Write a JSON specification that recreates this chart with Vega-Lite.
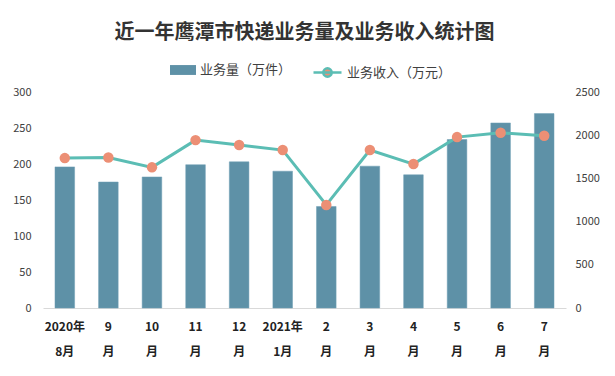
{
  "$schema": "https://vega.github.io/schema/vega-lite/v6.json",
  "autosize": {"type": "none"},
  "width": 523,
  "height": 216,
  "padding": {"left": 43, "top": 92, "right": 49, "bottom": 68},
  "background": "white",
  "config": {
    "view": {"stroke": null},
    "font": "Noto Sans CJK SC"
  },
  "title": {
    "text": "近一年鹰潭市快递业务量及业务收入统计图",
    "fontSize": 20,
    "fontWeight": "bold",
    "color": "#333333",
    "font": "Noto Sans CJK SC",
    "anchor": "middle",
    "offset": 14
  },
  "data": {
    "values": [
      {"month": "2020年\n8月", "volume": 196, "revenue": 1735},
      {"month": "9\n月", "volume": 175, "revenue": 1742},
      {"month": "10\n月", "volume": 182, "revenue": 1628},
      {"month": "11\n月", "volume": 199, "revenue": 1943},
      {"month": "12\n月", "volume": 203, "revenue": 1886},
      {"month": "2021年\n1月", "volume": 190, "revenue": 1828},
      {"month": "2\n月", "volume": 141, "revenue": 1193},
      {"month": "3\n月", "volume": 197, "revenue": 1828},
      {"month": "4\n月", "volume": 185, "revenue": 1666},
      {"month": "5\n月", "volume": 234, "revenue": 1978},
      {"month": "6\n月", "volume": 257, "revenue": 2028},
      {"month": "7\n月", "volume": 270, "revenue": 1993}
    ]
  },
  "encoding": {
    "x": {
      "field": "month",
      "type": "nominal",
      "sort": null,
      "scale": {"paddingInner": 0.55, "paddingOuter": 0.275},
      "axis": {
        "title": null,
        "labelAngle": 0,
        "labelExpr": "split(datum.value, '\\n')",
        "labelFontSize": 12,
        "labelFontWeight": "bold",
        "labelColor": "#222222",
        "labelLineHeight": 25,
        "labelPadding": 13,
        "ticks": false,
        "domainColor": "#d9d9d9",
        "domainWidth": 1
      }
    }
  },
  "layer": [
    {
      "mark": {"type": "bar", "stroke": "#6f9fb4", "strokeWidth": 0.5},
      "encoding": {
        "y": {
          "field": "volume",
          "type": "quantitative",
          "scale": {"domain": [0, 300]},
          "axis": {
            "title": null,
            "values": [0, 50, 100, 150, 200, 250, 300],
            "grid": false,
            "domain": false,
            "ticks": false,
            "labelFontSize": 11,
            "labelColor": "#404040",
            "labelPadding": 12
          }
        },
        "fill": {
          "datum": "业务量（万件）",
          "scale": {"range": ["#5e91a7"]},
          "legend": {
            "title": null,
            "orient": "none",
            "legendX": 127,
            "legendY": -35,
            "symbolType": "M-1,-0.38H1V0.38H-1Z",
            "symbolSize": 676,
            "symbolStrokeWidth": 0,
            "labelFontSize": 13,
            "labelColor": "#404040",
            "labelOffset": 4
          }
        }
      }
    },
    {
      "mark": {"type": "line", "strokeWidth": 3},
      "encoding": {
        "y": {
          "field": "revenue",
          "type": "quantitative",
          "scale": {"domain": [0, 2500]},
          "axis": null
        },
        "stroke": {
          "datum": "业务收入（万元）",
          "scale": {"range": ["#5bbdb4"]},
          "legend": {
            "title": null,
            "orient": "none",
            "legendX": 269,
            "legendY": -35,
            "symbolType": "M-1,0H1M-0.3,0A0.3,0.3 0 1 1 0.3,0A0.3,0.3 0 1 1 -0.3,0Z",
            "symbolSize": 784,
            "symbolStrokeWidth": 2.5,
            "symbolFillColor": "#ec8f75",
            "labelFontSize": 13,
            "labelColor": "#404040",
            "labelOffset": 4
          }
        }
      }
    },
    {
      "mark": {"type": "point", "filled": true, "size": 110, "color": "#ec8f75", "opacity": 1},
      "encoding": {
        "y": {
          "field": "revenue",
          "type": "quantitative",
          "scale": {"domain": [0, 2500]},
          "axis": {
            "orient": "right",
            "title": null,
            "values": [0, 500, 1000, 1500, 2000, 2500],
            "format": "d",
            "grid": false,
            "domain": false,
            "ticks": false,
            "labelFontSize": 11,
            "labelColor": "#404040",
            "labelPadding": 9
          }
        }
      }
    }
  ],
  "resolve": {"scale": {"y": "independent"}}
}
